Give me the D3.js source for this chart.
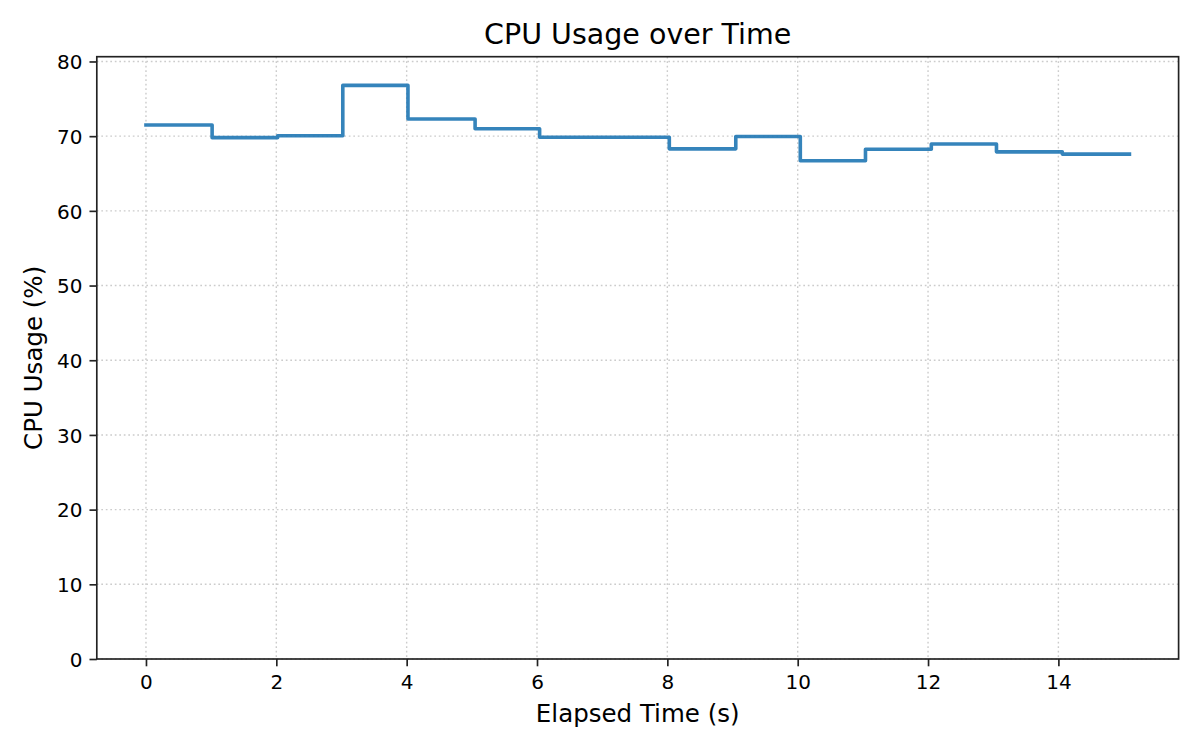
<!DOCTYPE html>
<html>
<head>
<meta charset="utf-8">
<script src="https://cdn.jsdelivr.net/npm/d3@7"></script>
<style>
  body { margin: 0; background: #fff; }
  text { font-family: "DejaVu Sans", sans-serif; fill: #000; }
</style>
</head>
<body>
<div id="chart"></div>
<script>

// data (sample time in s, cpu %)
var times = [0, 1.015, 2.02, 3.02, 4.02, 5.05, 6.04, 7.04, 8.03, 9.05, 10.04, 11.04, 12.05, 13.05, 14.06, 15.09];
var cpu = [71.5, 69.8, 70.05, 76.8, 72.3, 71.0, 69.85, 69.85, 68.3, 69.95, 66.7, 68.25, 68.95, 67.9, 67.6, 67.6];

var xTicks = [0, 2, 4, 6, 8, 10, 12, 14];
var yTicks = [0, 10, 20, 30, 40, 50, 60, 70, 80];

var margin = {top: 56.7, right: 21.4, bottom: 91, left: 96.8},
    width = 1200 - margin.left - margin.right,
    height = 750 - margin.top - margin.bottom;

var root = d3.select("#chart")
  .append("svg")
    .attr("width", 1200)
    .attr("height", 750);

var svg = root.append("g")
    .attr("transform", "translate(" + margin.left + "," + margin.top + ")");

var data = times.map(function (t, i) { return {t: t, v: cpu[i]}; });

// x scale with 5% padding like matplotlib
var ext = d3.extent(times);
var pad = (ext[1] - ext[0]) * 0.05;
var x = d3.scaleLinear()
  .domain([ext[0] - pad, ext[1] + pad])
  .range([0, width]);

var y = d3.scaleLinear()
  .domain([0, d3.max(cpu) * 1.05])
  .range([height, 0]);

// dotted grid
var grid = svg.append("g")
  .attr("stroke", "#cccccc")
  .attr("stroke-width", 1.4)
  .attr("stroke-dasharray", "1.7,2.8");
grid.selectAll(".gx")
  .data(xTicks)
  .enter()
  .append("line")
    .attr("x1", function (d) { return x(d); })
    .attr("x2", function (d) { return x(d); })
    .attr("y1", 0)
    .attr("y2", height);
grid.selectAll(".gy")
  .data(yTicks)
  .enter()
  .append("line")
    .attr("x1", 0)
    .attr("x2", width)
    .attr("y1", function (d) { return y(d); })
    .attr("y2", function (d) { return y(d); });

// step line
var line = d3.line()
  .x(function (d) { return x(d.t); })
  .y(function (d) { return y(d.v); })
  .curve(d3.curveStepAfter);

svg.append("path")
  .datum(data)
  .attr("d", line)
  .attr("fill", "none")
  .attr("stroke", "#1f77b4")
  .attr("stroke-opacity", 0.9)
  .attr("stroke-width", 3.6)
  .attr("stroke-linecap", "square")
  .attr("stroke-linejoin", "round");

// axes
var xAxis = svg.append("g")
  .attr("transform", "translate(0," + height + ")")
  .call(d3.axisBottom(x).tickValues(xTicks).tickSize(7.3).tickPadding(7).tickFormat(d3.format("d")));

var yAxis = svg.append("g")
  .call(d3.axisLeft(y).tickValues(yTicks).tickSize(7.3).tickPadding(7).tickFormat(d3.format("d")));

[xAxis, yAxis].forEach(function (a) {
  a.select(".domain").remove();
  a.selectAll(".tick line").attr("stroke", "#222").attr("stroke-width", 1.67);
  a.selectAll(".tick text")
    .style("font-family", "DejaVu Sans, sans-serif")
    .style("font-size", "20px")
    .attr("fill", "#000");
});
xAxis.selectAll(".tick text").attr("dy", null).attr("y", 29.6);
yAxis.selectAll(".tick text").attr("dy", null).attr("dominant-baseline", null).attr("y", 7.3);

// frame
svg.append("rect")
  .attr("x", 0)
  .attr("y", 0)
  .attr("width", width)
  .attr("height", height)
  .attr("fill", "none")
  .attr("stroke", "#222")
  .attr("stroke-width", 1.67);

// labels
root.append("text")
  .attr("x", margin.left + width / 2)
  .attr("y", 43.5)
  .attr("text-anchor", "middle")
  .style("font-size", "28.5px")
  .text("CPU Usage over Time");

root.append("text")
  .attr("x", margin.left + width / 2)
  .attr("y", 721.5)
  .attr("text-anchor", "middle")
  .style("font-size", "24.5px")
  .text("Elapsed Time (s)");

root.append("text")
  .attr("transform", "translate(41.5," + (margin.top + height / 2) + ") rotate(-90)")
  .attr("text-anchor", "middle")
  .style("font-size", "24.5px")
  .text("CPU Usage (%)");

</script>
</body>
</html>
